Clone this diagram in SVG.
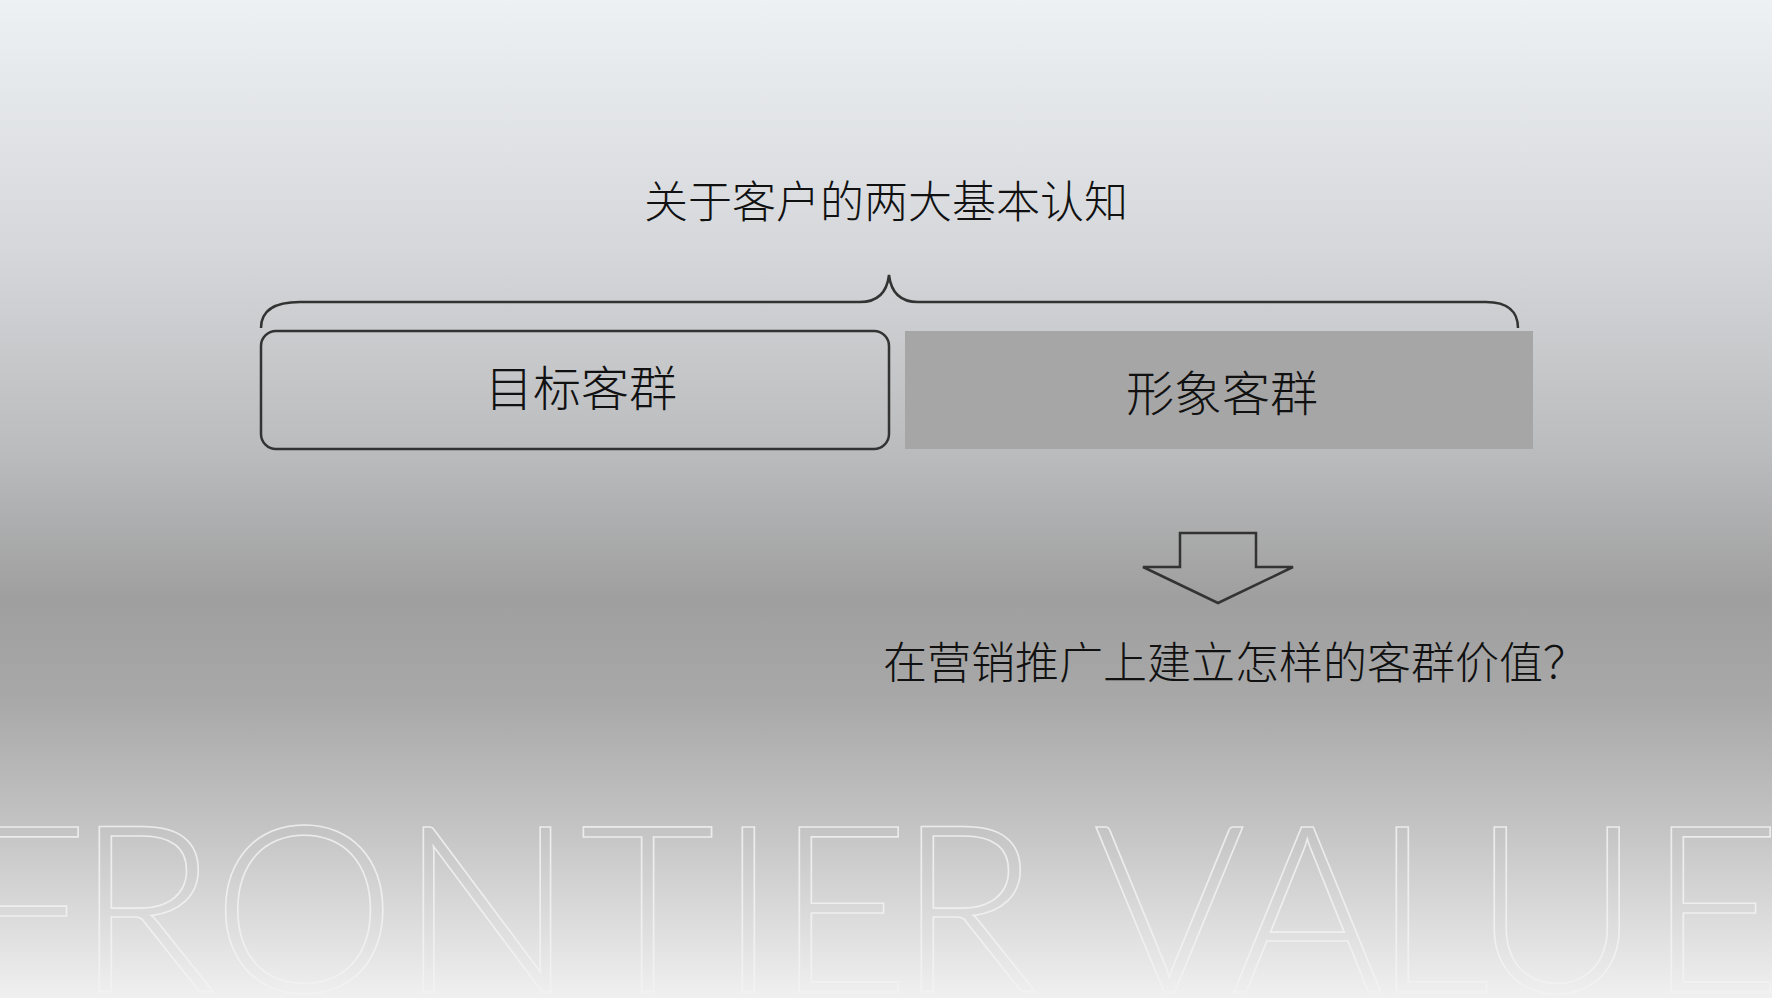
<svg xmlns="http://www.w3.org/2000/svg" width="1772" height="998" viewBox="0 0 1772 998">
  <defs>
    <linearGradient id="bg" x1="0" y1="0" x2="0" y2="1">
      <stop offset="0" stop-color="#eef1f4"/>
      <stop offset="0.25" stop-color="#d5d7da"/>
      <stop offset="0.45" stop-color="#bbbcbe"/>
      <stop offset="0.6" stop-color="#9f9f9f"/>
      <stop offset="0.7" stop-color="#a8a8a8"/>
      <stop offset="0.83" stop-color="#c4c4c4"/>
      <stop offset="1" stop-color="#f0f0f0"/>
    </linearGradient>
    <style>
      .cjk { font-family: "Noto Sans CJK SC", "Noto Sans", sans-serif; font-weight: 300; fill: #111; text-anchor: middle; }
      .line { fill: none; stroke: #333; stroke-width: 2.5; stroke-linejoin: miter; }
      .wm { font-family: Lato, "Open Sans", sans-serif; font-weight: 300; font-size: 233px; fill: none; stroke: #f2f2f2; stroke-width: 1.6; stroke-opacity: 0.85; }
    </style>
  </defs>
  <rect width="1772" height="998" fill="url(#bg)"/>
  <g id="watermark">
    <text class="wm" y="992" x="-45 75 212 399 580 718 775 897 1093 1231 1372 1472 1647">FRONTIERVALUE</text>
  </g>
  <g id="title">
    <text class="cjk" x="886" y="218" font-size="44">关于客户的两大基本认知</text>
  </g>
  <g id="connectors">
    <path class="line" d="M261,328 C261,310 275,302 300,302 L860,302 C878,302 887,292 889,275 C891,292 900,302 918,302 L1486,302 C1508,302 1518,312 1518,328"/>
    <polygon class="line" points="1180,533 1256,533 1256,567 1293,567 1218,603 1143,567 1180,567"/>
  </g>
  <g id="node-target">
    <rect x="261" y="331" width="628" height="118" rx="15" ry="15" fill="none" stroke="#333" stroke-width="2.5"/>
    <text class="cjk" x="581" y="406" font-size="48">目标客群</text>
  </g>
  <g id="node-image">
    <rect x="905" y="331" width="628" height="118" fill="#a6a6a6"/>
    <text class="cjk" x="1222" y="411" font-size="48">形象客群</text>
  </g>
  <g id="question">
    <text class="cjk" x="1235" y="679" font-size="44">在营销推广上建立怎样的客群价值？</text>
  </g>
</svg>
